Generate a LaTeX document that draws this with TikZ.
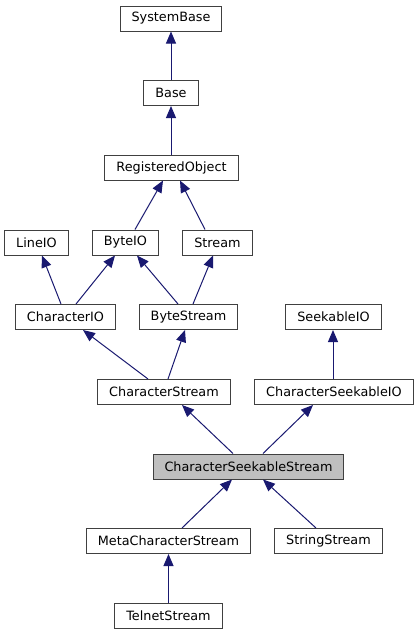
\documentclass[tikz,border=0pt]{standalone}
\usepackage{fontspec}
\setmainfont{DejaVu Sans}
\usetikzlibrary{arrows.meta}
\definecolor{edgeblue}{HTML}{191970}
\definecolor{boxgray}{HTML}{BFBFBF}

\tikzset{
  cls/.style={draw=black!75, line width=1pt, fill=white, inner xsep=11.5pt, inner ysep=0pt,
    minimum height=25pt, font=\fontsize{12.8}{15}\selectfont},
  inherit/.style={draw=edgeblue, line width=1pt, -{Triangle[width=10pt,length=12pt]}}
}

\begin{document}
\begin{tikzpicture}[x=1pt,y=-1pt]
\useasboundingbox (0,0) rectangle (419,635);
\node[cls] (systembase) at (171,18.5){SystemBase};
\node[cls] (base) at (171,93){Base};
\node[cls] (regobj) at (171.5,167.5){RegisteredObject};
\node[cls] (lineio) at (36.5,242.5){LineIO};
\node[cls] (byteio) at (125.5,242.5){ByteIO};
\node[cls] (stream) at (217.5,242.5){Stream};
\node[cls] (chario) at (65.5,317){CharacterIO};
\node[cls] (bytestream) at (188.5,317){ByteStream};
\node[cls] (seekio) at (333.5,317){SeekableIO};
\node[cls] (charstream) at (164,392){CharacterStream};
\node[cls] (charseekio) at (334,392){CharacterSeekableIO};
\node[cls,fill=boxgray] (charseekstream) at (248.5,466.5){CharacterSeekableStream};
\node[cls] (metastream) at (168.5,541){MetaCharacterStream};
\node[cls] (stringstream) at (328.5,541){StringStream};
\node[cls] (telnetstream) at (168.5,616){TelnetStream};
\draw[inherit] (base.north) -- (systembase.south);
\draw[inherit] ([xshift=-0.5]regobj.north) -- (base.south);
\draw[inherit] ([xshift=9.5]byteio.north) -- ([xshift=-8.5]regobj.south);
\draw[inherit] ([xshift=-12.5]stream.north) -- ([xshift=8.5]regobj.south);
\draw[inherit] ([xshift=-4.5]chario.north) -- ([xshift=5.5]lineio.south);
\draw[inherit] ([xshift=10.5]chario.north) -- ([xshift=-10.5]byteio.south);
\draw[inherit] ([xshift=-10.5]bytestream.north) -- ([xshift=11.5]byteio.south);
\draw[inherit] ([xshift=4.5]bytestream.north) -- ([xshift=-4.5]stream.south);
\draw[inherit] ([xshift=-16]charstream.north) -- ([xshift=17.5]chario.south);
\draw[inherit] ([xshift=4]charstream.north) -- ([xshift=-3.5]bytestream.south);
\draw[inherit] ([xshift=-1]charseekio.north) -- ([xshift=-0.5]seekio.south);
\draw[inherit] ([xshift=-15.5]charseekstream.north) -- ([xshift=18]charstream.south);
\draw[inherit] ([xshift=14.5]charseekstream.north) -- ([xshift=-21]charseekio.south);
\draw[inherit] ([xshift=13.5]metastream.north) -- ([xshift=-16.5]charseekstream.south);
\draw[inherit] ([xshift=-12.5]stringstream.north) -- ([xshift=14.5]charseekstream.south);
\draw[inherit] (telnetstream.north) -- (metastream.south);
\end{tikzpicture}
\end{document}
